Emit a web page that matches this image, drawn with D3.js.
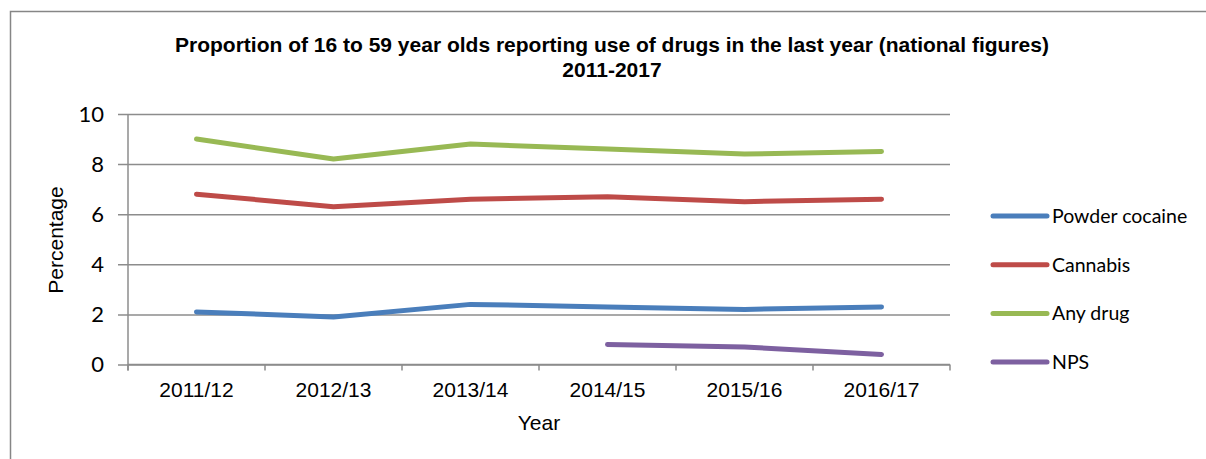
<!DOCTYPE html>
<html>
<head>
<meta charset="utf-8">
<script src="https://cdn.jsdelivr.net/npm/d3@7"></script>
<style>
  body { margin: 0; background: #fff; }
  svg { display: block; }
</style>
</head>
<body>
<div class="chart"></div>
<script>
// chart data
var years = ["2011/12", "2012/13", "2013/14", "2014/15", "2015/16", "2016/17"];
var cocaine = [2.1, 1.9, 2.4, 2.3, 2.2, 2.3];
var cannabis = [6.8, 6.3, 6.6, 6.7, 6.5, 6.6];
var anyDrug = [9.0, 8.2, 8.8, 8.6, 8.4, 8.5];
var nps = [null, null, null, 0.8, 0.7, 0.4];
var seriesNames = ["Powder cocaine", "Cannabis", "Any drug", "NPS"];
var yTicks = [0, 2, 4, 6, 8, 10];

var colors = ["#4a7ebb", "#be4b48", "#98b954", "#7d60a0"];
var allSeries = [cocaine, cannabis, anyDrug, nps];

var svgWidth = 1206;
var svgHeight = 459;

var margin = { top: 114, right: 256, bottom: 95, left: 128 };
var width = svgWidth - margin.left - margin.right;
var height = 364.5 - margin.top;

var svg = d3.select(".chart")
  .append("svg")
  .attr("width", svgWidth)
  .attr("height", svgHeight);

// outer chart border
svg.append("rect")
  .attr("x", 10.5)
  .attr("y", 11.5)
  .attr("width", 1210)
  .attr("height", 470)
  .attr("fill", "none")
  .attr("stroke", "#868686")
  .attr("stroke-width", 1.5);

var chartGroup = svg.append("g")
  .attr("transform", `translate(${margin.left}, ${margin.top})`);

var xScale = d3.scaleBand()
  .domain(years)
  .range([0, width]);

var yScale = d3.scaleLinear()
  .domain([0, 10])
  .range([height, 0]);

// gridlines + y axis
var leftAxis = d3.axisLeft(yScale)
  .tickValues(yTicks)
  .tickSize(-width)
  .tickSizeOuter(0)
  .tickPadding(24);

var yAxis = chartGroup.append("g").call(leftAxis);
yAxis.select(".domain").remove();
yAxis.selectAll(".tick line")
  .attr("x1", -10)
  .attr("stroke", "#8c8c8c")
  .attr("stroke-width", 1.5);
yAxis.selectAll(".tick text")
  .attr("font-family", "Lato, sans-serif")
  .attr("font-size", "22px")
  .attr("fill", "#000");

// vertical axis line
chartGroup.append("line")
  .attr("x1", 0).attr("x2", 0)
  .attr("y1", 0).attr("y2", height + 6)
  .attr("stroke", "#8c8c8c")
  .attr("stroke-width", 1.5);

// x axis with ticks between categories
var bottomAxis = d3.axisBottom(xScale).tickSize(0).tickPadding(18);
var xAxis = chartGroup.append("g")
  .attr("transform", `translate(0, ${height})`)
  .call(bottomAxis);
xAxis.select(".domain").remove();
xAxis.selectAll(".tick text")
  .attr("font-family", "Liberation Sans, Arial, sans-serif")
  .attr("font-size", "21px")
  .attr("fill", "#000");

chartGroup.append("line")
  .attr("x1", 0).attr("x2", width)
  .attr("y1", height).attr("y2", height)
  .attr("stroke", "#8c8c8c")
  .attr("stroke-width", 1.5);

chartGroup.selectAll(".xtick")
  .data(years.concat(["end"]))
  .enter()
  .append("line")
  .attr("x1", (d, i) => i * xScale.step())
  .attr("x2", (d, i) => i * xScale.step())
  .attr("y1", height)
  .attr("y2", height + 6)
  .attr("stroke", "#8c8c8c")
  .attr("stroke-width", 1.5);

// lines
var line = d3.line()
  .defined(d => d.v !== null)
  .x(d => xScale(d.year) + xScale.bandwidth() / 2)
  .y(d => yScale(d.v));

allSeries.forEach(function(values, i) {
  var pts = values.map((v, j) => ({ year: years[j], v: v }));
  chartGroup.append("path")
    .datum(pts)
    .attr("d", line)
    .attr("fill", "none")
    .attr("stroke", colors[i])
    .attr("stroke-width", 5)
    .attr("stroke-linecap", "round")
    .attr("stroke-linejoin", "round");
});

// title
var title = svg.append("text")
  .attr("text-anchor", "middle")
  .attr("font-family", "Liberation Sans, Arial, sans-serif")
  .attr("font-weight", "bold")
  .attr("font-size", "21px")
  .attr("fill", "#000");
title.append("tspan")
  .attr("x", 612).attr("y", 52)
  .text("Proportion of 16 to 59 year olds reporting use of drugs in the last year (national figures)");
title.append("tspan")
  .attr("x", 612).attr("y", 77)
  .text("2011-2017");

// axis labels
svg.append("text")
  .attr("transform", "translate(63, 240) rotate(-90)")
  .attr("text-anchor", "middle")
  .attr("font-family", "Liberation Sans, Arial, sans-serif")
  .attr("font-size", "21px")
  .attr("fill", "#000")
  .text("Percentage");

svg.append("text")
  .attr("x", margin.left + width / 2)
  .attr("y", 430)
  .attr("text-anchor", "middle")
  .attr("font-family", "Liberation Sans, Arial, sans-serif")
  .attr("font-size", "21px")
  .attr("fill", "#000")
  .text("Year");

// legend
var legend = svg.append("g").attr("transform", "translate(993, 216)");
var items = legend.selectAll("g")
  .data(seriesNames)
  .enter()
  .append("g")
  .attr("transform", (d, i) => `translate(0, ${i * 48.7})`);

items.append("line")
  .attr("x1", 0).attr("x2", 54)
  .attr("y1", 0).attr("y2", 0)
  .attr("stroke", (d, i) => colors[i])
  .attr("stroke-width", 5)
  .attr("stroke-linecap", "round");

items.append("text")
  .attr("x", 59)
  .attr("y", 0)
  .attr("dy", "0.35em")
  .attr("font-family", "Lato, sans-serif")
  .attr("font-size", "19.5px")
  .attr("fill", "#000")
  .text(d => d);
</script>
</body>
</html>
